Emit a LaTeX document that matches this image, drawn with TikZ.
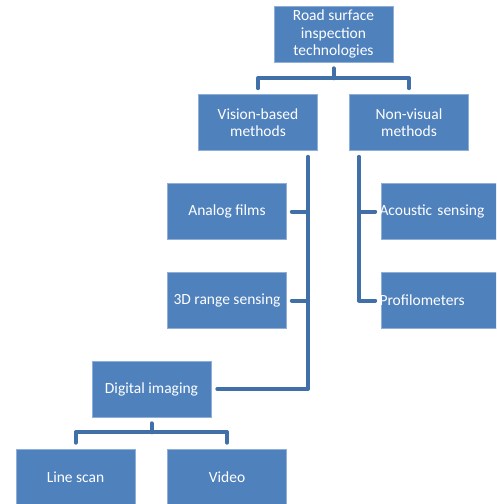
\documentclass[tikz,border=0pt]{standalone}
\usepackage{fontspec}
\setmainfont{Carlito}
\usetikzlibrary{calc}
\definecolor{boxfill}{HTML}{4F81BD}
\definecolor{boxedge}{HTML}{8FAFD8}
\definecolor{conncol}{HTML}{4170A9}
\tikzset{
  box/.style={rectangle, fill=boxfill, draw=boxedge, line width=0.6pt,
    minimum width=119pt, minimum height=56pt, inner sep=2pt,
    text=white, align=center, font=\fontsize{15.5}{17.5}\selectfont},
  leftbox/.style={box, text width=119pt, align=left, inner xsep=0pt},
  conn/.style={draw=conncol, line width=4pt, line cap=round, line join=round}
}
\begin{document}
\begin{tikzpicture}[x=1pt,y=-1pt]
\useasboundingbox (0,0) rectangle (496,504);
\clip (0,0) rectangle (496,504);
\node[box] (top) at (333.5,34) {Road surface\\inspection\\technologies};
\node[box] (vis) at (258,122.5) {Vision-based\\methods};
\node[box] (non) at (409,122.5) {Non-visual\\methods};
\node[box] (ana) at (227,211.5) {Analog films};
\node[box] (rng) at (227,300.5) {3D range sensing};
\node[leftbox] (aco) at (441,211.5) {\hspace*{-2pt}Acoustic sensing};
\node[leftbox] (pro) at (441,300.5) {\hspace*{-2pt}Profilometers};
\node[box] (dig) at (151.5,389) {Digital imaging};
\node[box] (lin) at (75.5,477) {Line scan};
\node[box] (vid) at (227,477) {Video};

\coordinate (vspine) at ($(vis.south)+(50,6)$);
\coordinate (nspine) at ($(non.south)+(-50,6)$);

% top fork
\draw[conn] ($(top.south)+(0,6)$) -- ++(0,10) coordinate (tj);
\draw[conn] ($(vis.north)+(0,-6)$) |- (tj) -| ($(non.north)+(0,-6)$);

% vision-based spine
\draw[conn] (vspine) |- ($(dig.east)+(6,0)$);
\draw[conn] ($(ana.east)+(5,0)$) -- (ana.east -| vspine);
\draw[conn] ($(rng.east)+(5,0)$) -- (rng.east -| vspine);

% non-visual spine
\draw[conn] (nspine) |- ($(pro.west)+(-6,0)$);
\draw[conn] (aco.west -| nspine) -- ($(aco.west)+(-6,0)$);

% bottom fork
\draw[conn] ($(dig.south)+(0,6)$) -- ++(0,9) coordinate (bj);
\draw[conn] ($(lin.north)+(0,-6)$) |- (bj) -| ($(vid.north)+(0,-6)$);
\end{tikzpicture}
\end{document}
